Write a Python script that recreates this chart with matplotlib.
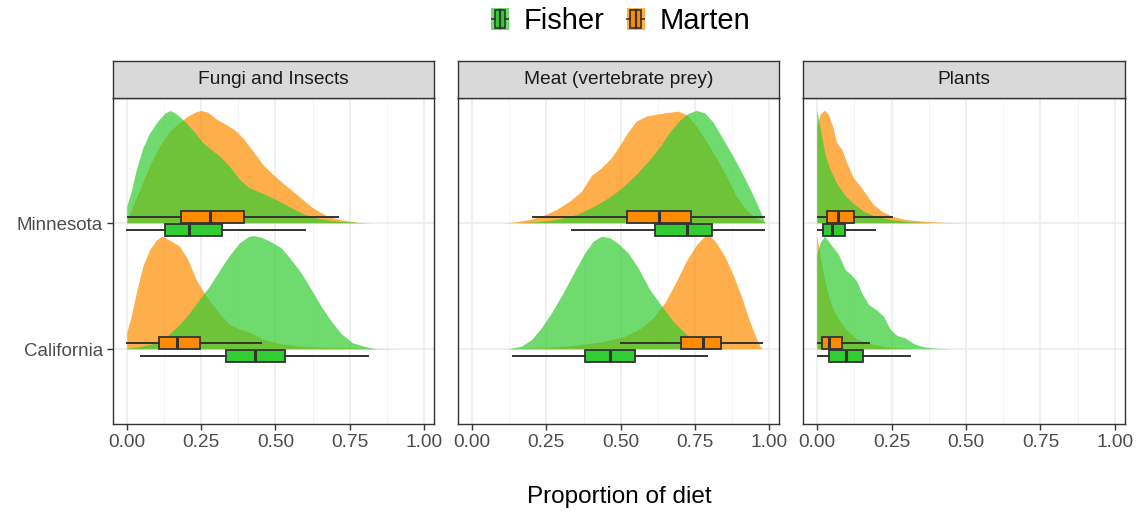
import matplotlib
matplotlib.use("Agg")
import matplotlib.pyplot as plt
from matplotlib.patches import Rectangle, Patch
from matplotlib.lines import Line2D
from matplotlib.legend_handler import HandlerBase

plt.rcParams['font.family'] = ['Liberation Sans', 'DejaVu Sans']

# ---------------- data ----------------
panels = ["Fungi and Insects", "Meat (vertebrate prey)", "Plants"]
regions = ["California", "Minnesota"]          # y positions 1, 2
species = ["Fisher", "Marten"]
x_ticks = [0.0, 0.25, 0.5, 0.75, 1.0]
x_tick_labels = ["0.00", "0.25", "0.50", "0.75", "1.00"]

# density ridges: x (proportion) and scaled height (in row units)
fungi_mn_marten_x = [0.002, 0.022, 0.05, 0.078, 0.112, 0.146, 0.179, 0.207, 0.235, 0.252, 0.274, 0.302, 0.336, 0.370, 0.397, 0.426, 0.459, 0.493, 0.526, 0.56, 0.593, 0.627, 0.672, 0.717, 0.778, 0.806]
fungi_mn_marten_h = [0.013, 0.132, 0.29, 0.45, 0.608, 0.728, 0.794, 0.847, 0.881, 0.892, 0.878, 0.825, 0.780, 0.728, 0.661, 0.569, 0.463, 0.384, 0.317, 0.251, 0.185, 0.119, 0.058, 0.026, 0.003, 0.0]
fungi_mn_fisher_x = [0.002, 0.017, 0.034, 0.056, 0.078, 0.106, 0.129, 0.148, 0.168, 0.196, 0.224, 0.258, 0.286, 0.314, 0.347, 0.381, 0.414, 0.459, 0.504, 0.549, 0.593, 0.650, 0.717, 0.784, 0.829]
fungi_mn_fisher_h = [0.132, 0.251, 0.423, 0.595, 0.709, 0.807, 0.868, 0.892, 0.865, 0.807, 0.735, 0.635, 0.582, 0.529, 0.450, 0.344, 0.278, 0.233, 0.185, 0.127, 0.074, 0.032, 0.011, 0.003, 0.0]
fungi_ca_marten_x = [0.002, 0.017, 0.034, 0.056, 0.078, 0.101, 0.121, 0.146, 0.179, 0.207, 0.235, 0.258, 0.286, 0.314, 0.347, 0.381, 0.414, 0.459, 0.515, 0.582, 0.672, 0.784, 0.918]
fungi_ca_marten_h = [0.132, 0.259, 0.444, 0.656, 0.783, 0.862, 0.894, 0.862, 0.815, 0.709, 0.55, 0.458, 0.365, 0.280, 0.193, 0.159, 0.132, 0.079, 0.042, 0.021, 0.011, 0.005, 0.0]
fungi_ca_fisher_x = [0.002, 0.045, 0.09, 0.134, 0.179, 0.213, 0.246, 0.280, 0.314, 0.347, 0.381, 0.409, 0.426, 0.454, 0.487, 0.521, 0.554, 0.588, 0.622, 0.655, 0.689, 0.722, 0.761, 0.806, 0.84]
fungi_ca_fisher_h = [0.003, 0.016, 0.042, 0.095, 0.193, 0.286, 0.392, 0.497, 0.624, 0.741, 0.841, 0.889, 0.899, 0.886, 0.849, 0.802, 0.709, 0.603, 0.471, 0.339, 0.220, 0.122, 0.048, 0.016, 0.0]

meat_mn_marten_x = [0.106, 0.151, 0.196, 0.241, 0.286, 0.330, 0.370, 0.403, 0.437, 0.470, 0.498, 0.526, 0.554, 0.588, 0.627, 0.666, 0.694, 0.722, 0.756, 0.789, 0.823, 0.857, 0.890, 0.924, 0.957, 0.985]
meat_mn_marten_h = [0.0, 0.008, 0.026, 0.058, 0.106, 0.172, 0.251, 0.376, 0.437, 0.516, 0.614, 0.720, 0.807, 0.847, 0.865, 0.878, 0.886, 0.860, 0.767, 0.648, 0.516, 0.370, 0.212, 0.101, 0.037, 0.008]
meat_mn_fisher_x = [0.151, 0.218, 0.286, 0.353, 0.409, 0.465, 0.510, 0.554, 0.599, 0.633, 0.666, 0.700, 0.728, 0.756, 0.784, 0.812, 0.845, 0.879, 0.912, 0.940, 0.963, 0.980, 0.986]
meat_mn_fisher_h = [0.0, 0.008, 0.026, 0.066, 0.127, 0.206, 0.286, 0.384, 0.503, 0.603, 0.720, 0.815, 0.868, 0.892, 0.873, 0.799, 0.667, 0.529, 0.384, 0.251, 0.132, 0.040, 0.0]
meat_ca_marten_x = [0.090, 0.207, 0.319, 0.431, 0.510, 0.566, 0.610, 0.650, 0.689, 0.722, 0.756, 0.784, 0.801, 0.823, 0.851, 0.879, 0.907, 0.929, 0.952, 0.969, 0.978]
meat_ca_marten_h = [0.0, 0.005, 0.021, 0.053, 0.095, 0.159, 0.246, 0.365, 0.537, 0.696, 0.825, 0.894, 0.899, 0.841, 0.735, 0.590, 0.418, 0.259, 0.114, 0.026, 0.0]
meat_ca_fisher_x = [0.129, 0.168, 0.202, 0.235, 0.269, 0.308, 0.347, 0.381, 0.409, 0.437, 0.465, 0.493, 0.526, 0.560, 0.599, 0.638, 0.677, 0.722, 0.767, 0.823, 0.868]
meat_ca_fisher_h = [0.003, 0.021, 0.074, 0.167, 0.286, 0.444, 0.616, 0.762, 0.854, 0.894, 0.881, 0.836, 0.762, 0.643, 0.471, 0.344, 0.220, 0.114, 0.048, 0.008, 0.0]

plants_mn_marten_x = [0.0, 0.011, 0.026, 0.039, 0.053, 0.067, 0.084, 0.101, 0.123, 0.146, 0.162, 0.190, 0.218, 0.252, 0.297, 0.364, 0.431, 0.493]
plants_mn_marten_h = [0.767, 0.860, 0.894, 0.860, 0.767, 0.635, 0.582, 0.476, 0.357, 0.291, 0.238, 0.146, 0.093, 0.053, 0.026, 0.011, 0.003, 0.0]
plants_mn_fisher_x = [0.0, 0.008, 0.017, 0.028, 0.045, 0.067, 0.095, 0.123, 0.157, 0.196, 0.252, 0.319, 0.386]
plants_mn_fisher_h = [0.899, 0.794, 0.675, 0.542, 0.423, 0.312, 0.217, 0.153, 0.093, 0.053, 0.024, 0.008, 0.0]
plants_ca_marten_x = [0.0, 0.008, 0.019, 0.034, 0.050, 0.073, 0.101, 0.134, 0.174, 0.230, 0.297, 0.330]
plants_ca_marten_h = [0.894, 0.788, 0.630, 0.471, 0.339, 0.233, 0.148, 0.079, 0.042, 0.016, 0.003, 0.0]
plants_ca_fisher_x = [0.0, 0.011, 0.026, 0.039, 0.056, 0.073, 0.095, 0.118, 0.134, 0.151, 0.174, 0.202, 0.224, 0.246, 0.269, 0.297, 0.325, 0.358, 0.398, 0.448]
plants_ca_fisher_h = [0.749, 0.841, 0.894, 0.854, 0.802, 0.749, 0.630, 0.582, 0.537, 0.444, 0.352, 0.307, 0.259, 0.159, 0.106, 0.087, 0.042, 0.016, 0.005, 0.0]

# box stats: [lower whisker, Q1, median, Q3, upper whisker]
fungi_mn_marten_box = [0.004, 0.181, 0.280, 0.396, 0.711]
fungi_mn_fisher_box = [0.002, 0.128, 0.209, 0.320, 0.599]
fungi_ca_marten_box = [0.002, 0.107, 0.170, 0.245, 0.450]
fungi_ca_fisher_box = [0.047, 0.334, 0.432, 0.531, 0.812]
meat_mn_marten_box = [0.205, 0.521, 0.630, 0.735, 0.983]
meat_mn_fisher_box = [0.335, 0.616, 0.723, 0.807, 0.980]
meat_ca_marten_box = [0.500, 0.702, 0.778, 0.838, 0.976]
meat_ca_fisher_box = [0.137, 0.380, 0.465, 0.548, 0.789]
plants_mn_marten_box = [0.002, 0.031, 0.069, 0.123, 0.252]
plants_mn_fisher_box = [0.002, 0.019, 0.050, 0.092, 0.193]
plants_ca_marten_box = [0.002, 0.017, 0.040, 0.083, 0.174]
plants_ca_fisher_box = [0.002, 0.041, 0.095, 0.153, 0.312]

densities = {
    0: {("Minnesota", "Marten"): (fungi_mn_marten_x, fungi_mn_marten_h),
        ("Minnesota", "Fisher"): (fungi_mn_fisher_x, fungi_mn_fisher_h),
        ("California", "Marten"): (fungi_ca_marten_x, fungi_ca_marten_h),
        ("California", "Fisher"): (fungi_ca_fisher_x, fungi_ca_fisher_h)},
    1: {("Minnesota", "Marten"): (meat_mn_marten_x, meat_mn_marten_h),
        ("Minnesota", "Fisher"): (meat_mn_fisher_x, meat_mn_fisher_h),
        ("California", "Marten"): (meat_ca_marten_x, meat_ca_marten_h),
        ("California", "Fisher"): (meat_ca_fisher_x, meat_ca_fisher_h)},
    2: {("Minnesota", "Marten"): (plants_mn_marten_x, plants_mn_marten_h),
        ("Minnesota", "Fisher"): (plants_mn_fisher_x, plants_mn_fisher_h),
        ("California", "Marten"): (plants_ca_marten_x, plants_ca_marten_h),
        ("California", "Fisher"): (plants_ca_fisher_x, plants_ca_fisher_h)},
}
boxes = {
    0: {("Minnesota", "Marten"): fungi_mn_marten_box, ("Minnesota", "Fisher"): fungi_mn_fisher_box,
        ("California", "Marten"): fungi_ca_marten_box, ("California", "Fisher"): fungi_ca_fisher_box},
    1: {("Minnesota", "Marten"): meat_mn_marten_box, ("Minnesota", "Fisher"): meat_mn_fisher_box,
        ("California", "Marten"): meat_ca_marten_box, ("California", "Fisher"): meat_ca_fisher_box},
    2: {("Minnesota", "Marten"): plants_mn_marten_box, ("Minnesota", "Fisher"): plants_mn_fisher_box,
        ("California", "Marten"): plants_ca_marten_box, ("California", "Fisher"): plants_ca_fisher_box},
}

# ---------------- style ----------------
colors = {"Fisher": "#32CD32", "Marten": "#FF8C00"}
dens_alpha = 0.7
dark = "#333333"
grid_col = "#EBEBEB"
box_offset = {"Marten": 0.052, "Fisher": -0.052}
box_width = 0.092

W, H = 1137, 512
fig = plt.figure(figsize=(W / 100, H / 100), dpi=100)
panel_lefts = [112.7, 458.0, 803.3]
panel_w = 321.3
panel_top, panel_bot = 98.3, 424.0
strip_top = 61.0

ypos = {r: i + 1 for i, r in enumerate(regions)}

for p, name in enumerate(panels):
    ax = fig.add_axes([panel_lefts[p] / W, 1 - panel_bot / H, panel_w / W, (panel_bot - panel_top) / H])
    ax.set_xlim(-0.047, 1.033)
    ax.set_ylim(0.407, 2.992)
    ax.set_xticks(x_ticks)
    ax.set_xticklabels(x_tick_labels)
    ax.set_xticks([0.125, 0.375, 0.625, 0.875], minor=True)
    ax.set_yticks([ypos[r] for r in regions])
    if p == 0:
        ax.set_yticklabels(regions)
        ax.tick_params(axis='y', length=4, width=1.0, color=dark, labelsize=13.5, labelcolor="#4D4D4D", pad=3)
    else:
        ax.set_yticklabels([])
        ax.tick_params(axis='y', length=0)
    ax.tick_params(axis='x', which='major', length=4, width=1.0, color=dark, labelsize=13.8,
                   labelcolor="#4D4D4D", pad=3)
    ax.tick_params(axis='x', which='minor', length=0)
    for v in x_ticks:
        ax.axvline(v, color=grid_col, lw=1.1, zorder=0)
    for v in [0.125, 0.375, 0.625, 0.875]:
        ax.axvline(v, color="#F2F2F2", lw=0.6, zorder=0)
    for r in regions:
        ax.axhline(ypos[r], color=grid_col, lw=1.1, zorder=0)
    for s in ax.spines.values():
        s.set_color(dark)
        s.set_linewidth(1.0)

    # densities: Marten below Fisher
    for r in ["Minnesota", "California"]:
        for sp in ["Marten", "Fisher"]:
            xs, hs = densities[p][(r, sp)]
            base = ypos[r]
            ax.fill_between(xs, [base] * len(xs), [base + h for h in hs],
                            facecolor=colors[sp], alpha=dens_alpha, linewidth=0, zorder=2)
    # boxplots
    for r in ["Minnesota", "California"]:
        for sp in ["Marten", "Fisher"]:
            lo, q1, med, q3, hi = boxes[p][(r, sp)]
            st = [dict(whislo=lo, q1=q1, med=med, q3=q3, whishi=hi, fliers=[])]
            ax.bxp(st, positions=[ypos[r] + box_offset[sp]], widths=box_width,
                   orientation='horizontal', patch_artist=True, showcaps=False,
                   showfliers=False, manage_ticks=False,
                   boxprops=dict(facecolor=colors[sp], edgecolor=dark, linewidth=1.3),
                   medianprops=dict(color=dark, linewidth=2.2),
                   whiskerprops=dict(color=dark, linewidth=1.4), zorder=4)

    # strip
    sax = fig.add_axes([panel_lefts[p] / W, 1 - panel_top / H, panel_w / W, (panel_top - strip_top) / H])
    sax.set_facecolor("#D9D9D9")
    sax.set_xticks([])
    sax.set_yticks([])
    for s in sax.spines.values():
        s.set_color(dark)
        s.set_linewidth(1.0)
    sax.text(0.5, 0.5, name, ha='center', va='center', fontsize=13.8, color="#1A1A1A",
             transform=sax.transAxes)

fig.text(619.5 / W, 1 - 503 / H, "Proportion of diet", ha='center', va='baseline', fontsize=17.5, color="black")


class BoxKeyHandler(HandlerBase):
    def create_artists(self, legend, orig_handle, xdescent, ydescent, width, height, fontsize, trans):
        col = orig_handle.get_facecolor()
        x0, y0 = -xdescent, -ydescent
        arts = []
        arts.append(Rectangle((x0, y0), width, height, facecolor=col, alpha=dens_alpha,
                              edgecolor='none', transform=trans))
        bx0, bx1 = x0 + 0.22 * width, x0 + 0.78 * width
        arts.append(Rectangle((bx0, y0 + 0.1 * height), bx1 - bx0, 0.8 * height,
                              facecolor=col, edgecolor=dark, linewidth=1.2, transform=trans))
        xm = x0 + 0.5 * width
        arts.append(Line2D([xm, xm], [y0 + 0.1 * height, y0 + 0.9 * height], color=dark, lw=1.6, transform=trans))
        ym = y0 + 0.5 * height
        arts.append(Line2D([x0 + 0.04 * width, bx0], [ym, ym], color=dark, lw=1.2, transform=trans))
        arts.append(Line2D([bx1, x0 + 0.96 * width], [ym, ym], color=dark, lw=1.2, transform=trans))
        return arts


handles = [Patch(facecolor=colors[s], label=s) for s in species]
fig.legend(handles=handles, labels=species, loc='center', bbox_to_anchor=(620.5 / W, 1 - 21 / H),
           ncol=2, frameon=False, fontsize=21, handlelength=0.62, handleheight=0.8,
           handletextpad=0.5, columnspacing=0.75, borderpad=0.1,
           handler_map={Patch: BoxKeyHandler()})

fig.savefig("out.png", dpi=100)
